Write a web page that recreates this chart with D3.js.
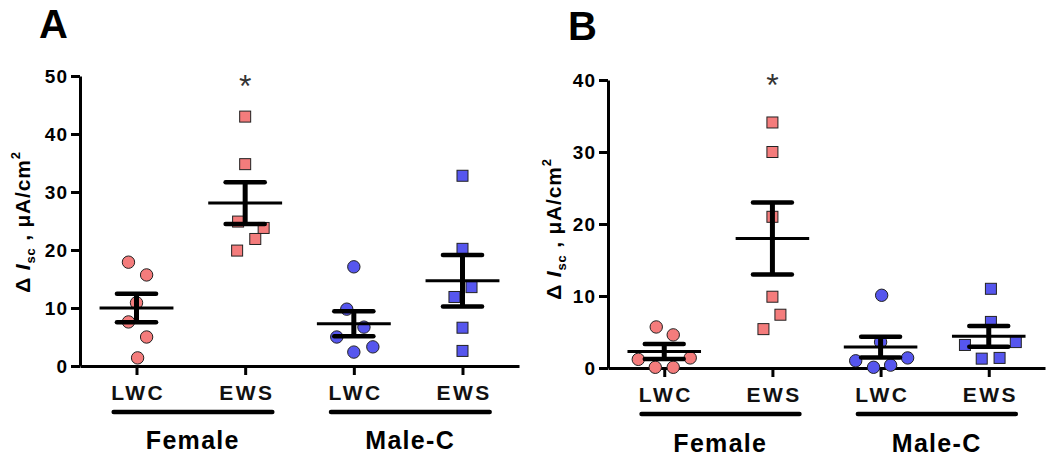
<!DOCTYPE html>
<html><head><meta charset="utf-8">
<script src="https://cdn.jsdelivr.net/npm/d3@7"></script>
<style>
html,body{margin:0;padding:0;background:#fff;}
svg{display:block;font-family:"Liberation Sans",Arial,Helvetica,sans-serif;}
</style></head>
<body><svg id="chart" width="1050" height="463"></svg>
<script>
// ---------- data ----------
const categories = ["LWC", "EWS", "LWC", "EWS"];
const groups = ["Female", "Male-C"];
const shapes = ["circle", "square", "circle", "square"];
const groupColors = ["#F47C7C", "#5656EE"];

// Panel A
const aTicks = [0, 10, 20, 30, 40, 50];
const aFemaleLWC = [17.9, 15.7, 10.9, 7.6, 5.0, 1.4];
const aFemaleEWS = [43.0, 34.8, 24.9, 23.8, 21.9, 19.9];
const aMaleLWC = [17.1, 9.8, 6.7, 5.0, 3.3, 2.4];
const aMaleEWS = [32.8, 20.2, 13.6, 11.9, 6.6, 2.6];
const aJitter = [
  [-0.074, 0.093, 0.0, -0.074, 0.093, 0.01],
  [0.0, 0.0, -0.065, 0.17, 0.093, -0.074],
  [0.0, -0.065, 0.093, -0.157, 0.175, 0.0],
  [0.0, 0.0, 0.083, -0.074, 0.0, 0.0]
];
const aMeans = [10.0, 28.1, 7.3, 14.7];
const aSem = [2.45, 3.6, 2.15, 4.45];
const aSignif = ["", "*", "", ""];

// Panel B
const bTicks = [0, 10, 20, 30, 40];
const bFemaleLWC = [5.7, 4.6, 1.2, 1.4, 0.1, 0.1];
const bFemaleEWS = [34.1, 30.0, 21.0, 9.9, 7.4, 5.4];
const bMaleLWC = [10.1, 3.6, 1.0, 0.1, 0.4, 1.4];
const bMaleEWS = [11.0, 6.4, 3.2, 3.6, 1.3, 1.4];
const bJitter = [
  [-0.074, 0.083, -0.24, 0.24, -0.083, 0.083],
  [0.0, 0.0, 0.0, 0.0, 0.074, -0.083],
  [0.01, 0.0, -0.23, -0.065, 0.093, 0.25],
  [0.02, 0.02, -0.22, 0.25, -0.065, 0.1]
];
const bMeans = [2.3, 18.0, 2.9, 4.4];
const bSem = [1.05, 5.0, 1.45, 1.45];
const bSignif = ["", "*", "", ""];

// ---------- drawing ----------
const svg = d3.select("#chart");
const FONT = '"Liberation Sans",Arial,Helvetica,sans-serif';

function drawPanel(cfg) {
  const g = svg.append("g");
  const y = d3.scaleLinear().domain([0, d3.max(cfg.ticks)]).range([cfg.y0, cfg.y1]);
  const x = d3.scalePoint().domain(d3.range(categories.length)).range([cfg.x0, cfg.x1]).padding(0.52);
  const step = x.step();

  // panel letter
  g.append("text").attr("x", cfg.letterX).attr("y", cfg.letterY)
    .attr("font-size", 40).attr("font-weight", "bold").text(cfg.letter);

  // y axis
  const ya = g.append("g").attr("transform", `translate(${cfg.x0},0)`)
    .call(d3.axisLeft(y).tickValues(cfg.ticks).tickSize(9).tickSizeOuter(0).tickPadding(3));
  ya.select(".domain").attr("stroke", "#000").attr("stroke-width", 3);
  ya.selectAll(".tick line").attr("stroke", "#000").attr("stroke-width", 3);
  ya.selectAll(".tick text").attr("font-size", 19).attr("font-weight", "bold")
    .attr("font-family", FONT).attr("fill", "#000").attr("letter-spacing", "1px");

  // x axis
  const xa = g.append("g").attr("transform", `translate(0,${cfg.y0})`)
    .call(d3.axisBottom(x).tickSize(9).tickSizeOuter(0).tickPadding(10).tickFormat(i => categories[i]));
  xa.select(".domain").attr("stroke", "#000").attr("stroke-width", 3);
  xa.selectAll(".tick line").attr("stroke", "#000").attr("stroke-width", 3);
  xa.selectAll(".tick text").attr("font-size", 21).attr("font-weight", "bold")
    .attr("font-family", FONT).attr("fill", "#111").attr("letter-spacing", "2.5px")
    .attr("dx", "1.2px");

  // group underline + label
  groups.forEach((gr, k) => {
    const c1 = x(2 * k), c2 = x(2 * k + 1);
    const mid = (c1 + c2) / 2;
    g.append("line").attr("x1", c1 - 0.21 * step).attr("x2", c2 + 0.25 * step)
      .attr("y1", cfg.lineY).attr("y2", cfg.lineY)
      .attr("stroke", "#000").attr("stroke-width", 4.5).attr("stroke-linecap", "round");
    g.append("text").attr("x", mid + 2).attr("y", cfg.groupY).attr("text-anchor", "middle")
      .attr("font-size", 25).attr("font-weight", "bold").attr("letter-spacing", "1.3px").text(gr);
  });

  // y label
  const yl = g.append("text")
    .attr("transform", `translate(${cfg.ylabX},${cfg.ylabY}) rotate(-90)`)
    .attr("text-anchor", "middle").attr("font-size", 21).attr("font-weight", "bold")
    .attr("letter-spacing", "0.8px");
  yl.append("tspan").text("Δ ");
  yl.append("tspan").attr("font-style", "italic").text("I");
  yl.append("tspan").attr("font-size", 13).attr("dy", 5).text("sc");
  yl.append("tspan").attr("dy", -5).text(" , μA/cm");
  yl.append("tspan").attr("font-size", 13).attr("dy", -10).text("2");

  // points
  cfg.series.forEach((vals, i) => {
    const color = groupColors[Math.floor(i / 2)];
    const cx = x(i);
    const pts = vals.map((v, j) => ({ x: cx + cfg.jitter[i][j] * step, y: y(v) }));
    if (shapes[i] === "circle") {
      g.selectAll(null).data(pts).enter().append("circle")
        .attr("cx", d => d.x).attr("cy", d => d.y).attr("r", 6.2)
        .attr("fill", color).attr("stroke", "#222").attr("stroke-width", 1);
    } else {
      const s = 11;
      g.selectAll(null).data(pts).enter().append("rect")
        .attr("x", d => d.x - s / 2).attr("y", d => d.y - s / 2)
        .attr("width", s).attr("height", s)
        .attr("fill", color).attr("stroke", "#222").attr("stroke-width", 1);
    }
  });

  // mean + SEM
  cfg.means.forEach((m, i) => {
    const cx = x(i);
    const se = cfg.sem[i];
    g.append("line").attr("x1", cx).attr("x2", cx).attr("y1", y(m + se)).attr("y2", y(m - se))
      .attr("stroke", "#000").attr("stroke-width", 5);
    [m + se, m - se].forEach(v => {
      g.append("line").attr("x1", cx - 0.18 * step).attr("x2", cx + 0.18 * step)
        .attr("y1", y(v)).attr("y2", y(v))
        .attr("stroke", "#000").attr("stroke-width", 4.5).attr("stroke-linecap", "round");
    });
    g.append("line").attr("x1", cx - 0.34 * step).attr("x2", cx + 0.34 * step)
      .attr("y1", y(m)).attr("y2", y(m)).attr("stroke", "#000").attr("stroke-width", 3);
  });

  // significance
  cfg.signif.forEach((s, i) => {
    if (!s) return;
    const top = d3.max(cfg.series[i]);
    g.append("text").attr("x", x(i)).attr("y", y(top) - cfg.starGap)
      .attr("text-anchor", "middle").attr("font-size", 32).attr("fill", "#333").text(s);
  });
}

drawPanel({
  letter: "A", letterX: 39, letterY: 38,
  ticks: aTicks, x0: 80, x1: 519, y0: 366, y1: 76,
  series: [aFemaleLWC, aFemaleEWS, aMaleLWC, aMaleEWS], jitter: aJitter,
  means: aMeans, sem: aSem, signif: aSignif, starGap: 20,
  lineY: 412, groupY: 449, ylabX: 30, ylabY: 222
});
drawPanel({
  letter: "B", letterX: 568, letterY: 40,
  ticks: bTicks, x0: 608, x1: 1045, y0: 368, y1: 80,
  series: [bFemaleLWC, bFemaleEWS, bMaleLWC, bMaleEWS], jitter: bJitter,
  means: bMeans, sem: bSem, signif: bSignif, starGap: 26,
  lineY: 414, groupY: 452, ylabX: 561, ylabY: 229
});
</script></body></html>
